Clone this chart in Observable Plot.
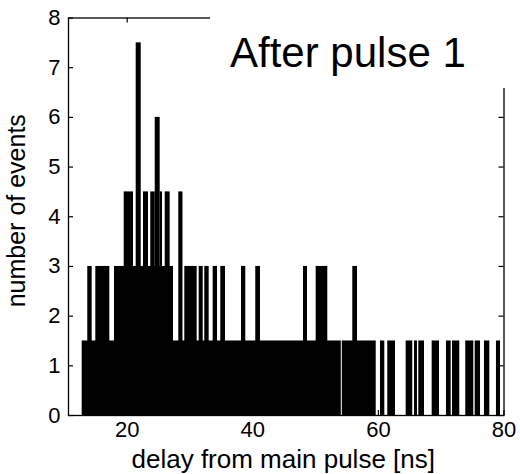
<!DOCTYPE html>
<html>
<head>
<meta charset="utf-8">
<script src="https://cdn.jsdelivr.net/npm/d3@7"></script>
<script src="https://cdn.jsdelivr.net/npm/@observablehq/plot@0.6"></script>
<style>
  html, body { margin: 0; padding: 0; background: #fff; }
  #wrap { position: relative; width: 520px; height: 474px; font-family: "Liberation Sans", Arial, sans-serif; }
  #title-box { position: absolute; left: 210px; top: 0; width: 310px; height: 88px; background: #fff; }
  #title { position: absolute; left: 20px; top: 32px; font-size: 42px; line-height: 42px; color: #000; white-space: nowrap; }
</style>
</head>
<body>
<div id="wrap">
  <div id="chart"></div>
  <div id="title-box"><span id="title">After pulse 1</span></div>
</div>
<script>
// Histogram bars: start/end of each run (ns) and height (number of events)
const level15Start = [12.83, 54.25, 60.33, 61.49, 64.42, 65.75, 66.43, 68.56, 70.84, 71.8, 73.91, 75.41, 76.89, 78.8];
const level15End   = [54.09, 59.65, 61.02, 62.72, 65.47, 66.22, 67.34, 69.73, 71.59, 72.96, 75.19, 76.26, 77.74, 79.44];
const level3Start  = [13.72, 15.0, 17.97, 29.17, 31.46, 32.35, 33.69, 34.9, 38.2, 40.47, 48.07, 50.09, 55.92];
const level3End    = [14.42, 17.23, 27.37, 31.14, 32.1, 33.05, 34.38, 35.65, 38.88, 41.22, 48.71, 51.94, 56.67];
const level45Start = [19.52, 22.59, 23.75, 25.25, 26.05, 28.21];
const level45End   = [21.0, 23.39, 24.46, 25.62, 26.84, 28.88];
const level6Start  = [24.46];
const level6End    = [25.25];
const level75Start = [21.43];
const level75End   = [22.23];

const xTicks = [20, 40, 60, 80];
const yTicks = [0, 1, 2, 3, 4, 5, 6, 7, 8];
const xDomain = [10.65, 80];
const yDomain = [0, 8];
const xLabel = "delay from main pulse [ns]";
const yLabel = "number of events";

const bars = [];
function addLevel(starts, ends, value) {
  starts.forEach((s, i) => bars.push({x1: s, x2: ends[i], events: value}));
}
addLevel(level15Start, level15End, 1.5);
addLevel(level3Start, level3End, 3);
addLevel(level45Start, level45End, 4.5);
addLevel(level6Start, level6End, 6);
addLevel(level75Start, level75End, 7.5);

const W = 520, H = 474;
const mL = 68, mR = 16.5, mT = 17.5, mB = 59;
const plotW = W - mL - mR, plotH = H - mT - mB;
const font = "Liberation Sans, Arial, sans-serif";

const chart = Plot.plot({
  width: W, height: H,
  marginLeft: mL, marginRight: mR, marginTop: mT, marginBottom: mB,
  style: {fontFamily: font, background: "#fff", color: "#000"},
  x: {domain: xDomain},
  y: {domain: yDomain},
  marks: [
    Plot.rectY(bars, {x1: "x1", x2: "x2", y1: 0, y2: "events", fill: "#000"}),
    Plot.frame({stroke: "#000", strokeWidth: 1.3}),
    // inward ticks
    Plot.tickY(yTicks, {y: d => d, insetRight: plotW - 5, stroke: "#000", strokeWidth: 1.2}),
    Plot.tickY(yTicks, {y: d => d, insetLeft: plotW - 5, stroke: "#000", strokeWidth: 1.2}),
    Plot.tickX(xTicks, {x: d => d, insetTop: plotH - 5, stroke: "#000", strokeWidth: 1.2}),
    Plot.tickX(xTicks, {x: d => d, insetBottom: plotH - 5, stroke: "#000", strokeWidth: 1.2}),
    Plot.axisY(yTicks, {anchor: "left", tickSize: 0, tickPadding: 8, fontSize: 22, label: null, tickFormat: d => String(d)}),
    Plot.axisX(xTicks, {anchor: "bottom", tickSize: 0, tickPadding: 6, fontSize: 22, label: null, tickFormat: d => String(d)}),
    Plot.text([yLabel], {frameAnchor: "left", rotate: -90, dx: -52, dy: -6, fontSize: 25, textAnchor: "middle", lineAnchor: "middle", fill: "#000"}),
    Plot.text([xLabel], {frameAnchor: "bottom", dy: 44, dx: -3, fontSize: 26, textAnchor: "middle", lineAnchor: "middle", fill: "#000"})
  ]
});
document.getElementById("chart").appendChild(chart);
</script>
</body>
</html>
